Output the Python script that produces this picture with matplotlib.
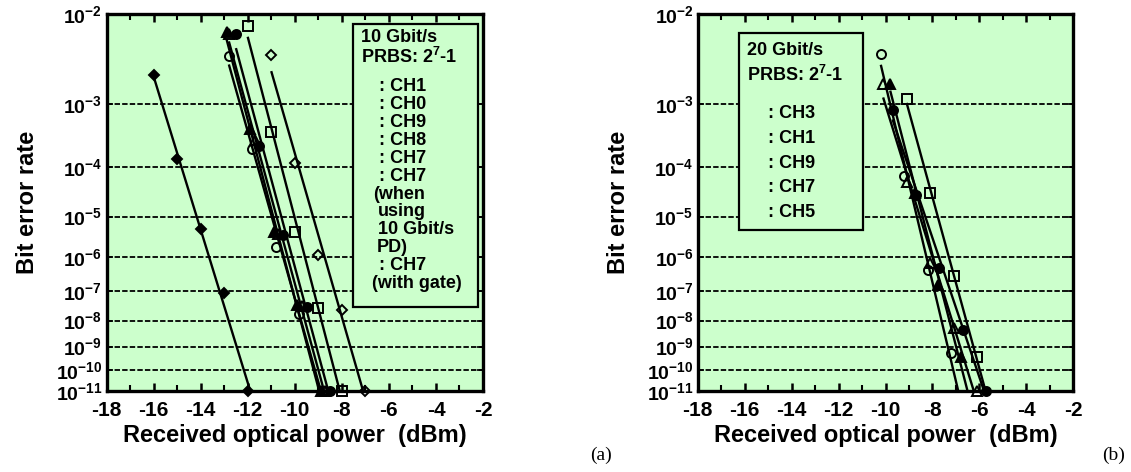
import numpy as np
import matplotlib
matplotlib.use('Agg')
import matplotlib.pyplot as plt
from matplotlib.patches import Rectangle

plt.rcParams['font.family'] = ['Liberation Sans', 'DejaVu Sans']
plt.rcParams['font.weight'] = 'bold'
plt.rcParams['mathtext.fontset'] = 'custom'
plt.rcParams['mathtext.rm'] = 'Liberation Sans:bold'
plt.rcParams['mathtext.bf'] = 'Liberation Sans:bold'
plt.rcParams['mathtext.it'] = 'Liberation Sans:bold'

# ---------------- data (a) 10 Gbit/s ----------------
a_fdiam_x = [-16, -15, -14, -13, -12]
a_fdiam_y = [2.3e-3, 1.4e-4, 5.3e-6, 8.5e-8, 1e-11]
a_osq_x = [-12, -11, -10, -9, -8]
a_osq_y = [7.7e-3, 3.9e-4, 4.3e-6, 2.8e-8, 1e-11]
a_odiam_x = [-11, -10, -9, -8, -7]
a_odiam_y = [3.9e-3, 1.2e-4, 1.1e-6, 2.3e-8, 1e-11]
a_ftri_x = [-12.9, -11.9, -10.9, -9.9, -8.9]
a_ftri_y = [6.7e-3, 4.4e-4, 4.3e-6, 3.5e-8, 1e-11]
a_otri_x = [-12.8, -11.7, -10.7, -9.7, -8.7]
a_otri_y = [6.5e-3, 2.9e-4, 3.8e-6, 3.2e-8, 1e-11]
a_ocirc_x = [-12.8, -11.8, -10.8, -9.8, -8.8]
a_ocirc_y = [3.8e-3, 2.1e-4, 1.8e-6, 1.7e-8, 1e-11]
a_fcirc_x = [-12.5, -11.5, -10.5, -9.5, -8.5]
a_fcirc_y = [6.4e-3, 2.3e-4, 3.6e-6, 3.0e-8, 1e-11]

# ---------------- data (b) 20 Gbit/s ----------------
b_ocirc_x = [-10.2, -9.2, -8.2, -7.2]
b_ocirc_y = [4.0e-3, 6.9e-5, 4.4e-7, 5.7e-10]
b_otri_x = [-10.1, -9.1, -8.1, -7.1, -6.1]
b_otri_y = [1.8e-3, 5.4e-5, 6.8e-7, 5.4e-9, 1e-11]
b_ftri_x = [-9.8, -8.75, -7.75, -6.8]
b_ftri_y = [1.8e-3, 3.2e-5, 1.6e-7, 3.7e-10]
b_fcirc_x = [-9.7, -8.7, -7.7, -6.7, -5.7]
b_fcirc_y = [8.2e-4, 2.9e-5, 4.9e-7, 4.6e-9, 1e-11]
b_osq_x = [-9.1, -8.1, -7.1, -6.1]
b_osq_y = [1.15e-3, 3.2e-5, 2.8e-7, 3.7e-10]

yticks = [1e-2, 1e-3, 1e-4, 1e-5, 1e-6, 1e-7, 1e-8, 1e-9, 1e-10, 1e-11]
ytick_labels = [r'$\mathbf{10^{-%d}}$' % k for k in range(2, 12)]
xticks = [-18, -16, -14, -12, -10, -8, -6, -4, -2]
xtick_labels = ['-18', '-16', '-14', '-12', '-10', '-8', '-6', '-4', '-2']

legend_a_head = ['10 Gbit/s', r'PRBS: $\mathbf{2^{7}}$-1']
legend_a_items = [': CH1', ': CH0', ': CH9', ': CH8', ': CH7', ': CH7', '(when',
                  'using', '10 Gbit/s', 'PD)', ': CH7', '(with gate)']
legend_b_head = ['20 Gbit/s', r'PRBS: $\mathbf{2^{7}}$-1']
legend_b_items = [': CH3', ': CH1', ': CH9', ': CH7', ': CH5']

BG = '#CCFFCC'
W, H = 1131, 472


def fwd(b):
    b = np.clip(np.asarray(b, dtype=float), 1e-300, 0.9999999)
    return -np.log10(-np.log10(b))


def inv(t):
    return 10.0 ** (-(10.0 ** (-np.asarray(t, dtype=float))))


def setup(ax):
    ax.set_facecolor(BG)
    ax.set_yscale('function', functions=(fwd, inv))
    ax.set_xlim(-18, -2)
    ax.set_ylim(1e-11, 1e-2)
    ax.set_yticks(yticks)
    ax.set_yticklabels(ytick_labels, fontsize=14)
    ax.yaxis.set_minor_locator(matplotlib.ticker.NullLocator())
    ax.set_xticks(xticks)
    ax.set_xticklabels(xtick_labels, fontsize=15, fontweight='bold')
    ax.set_xticks(np.arange(-17, -2, 2), minor=True)
    ax.tick_params(axis='x', which='major', direction='in', length=6, width=1.8,
                   top=True, bottom=True, pad=7)
    ax.tick_params(axis='x', which='minor', direction='in', length=4, width=1.5,
                   top=True, bottom=True)
    ax.tick_params(axis='y', which='major', direction='in', length=4, width=1.2,
                   left=True, right=True, pad=3)
    for s in ax.spines.values():
        s.set_linewidth(2.4)
    ax.yaxis.grid(True, linestyle=(0, (3.0, 1.2)), color='black', linewidth=1.3)
    ax.set_axisbelow(True)
    ax.set_xlabel('Received optical power  (dBm)', fontsize=17,
                  fontweight='bold', labelpad=3)
    ax.set_ylabel('Bit error rate', fontsize=17, fontweight='bold', labelpad=12)


def series(ax, xs, ys, marker, filled, ms=6.5):
    xs = np.asarray(xs, float)
    ys = np.asarray(ys, float)
    t = fwd(ys)
    m, c = np.polyfit(xs, t, 1)
    x_end = (fwd(1e-11) - c) / m
    xl = np.array([xs[0], x_end])
    ax.plot(xl, inv(m * xl + c), color='black', lw=1.7, zorder=4,
            solid_capstyle='butt', clip_on=False)
    ax.plot(xs, ys, linestyle='none', marker=marker, ms=ms,
            mfc='black' if filled else 'none', mec='black', mew=1.4,
            zorder=5, clip_on=False)


fig = plt.figure(figsize=(W / 100, H / 100), dpi=100)
axa = fig.add_axes([106.5 / W, 1 - 391 / H, 376.5 / W, 377 / H])
axb = fig.add_axes([697.7 / W, 1 - 391 / H, 375.6 / W, 377 / H])
for ax in (axa, axb):
    setup(ax)

series(axa, a_fdiam_x, a_fdiam_y, 'D', True, ms=5)
series(axa, a_osq_x, a_osq_y, 's', False, ms=7)
series(axa, a_odiam_x, a_odiam_y, 'D', False, ms=5.5)
series(axa, a_ftri_x, a_ftri_y, '^', True, ms=7)
series(axa, a_otri_x, a_otri_y, '^', False, ms=7)
series(axa, a_ocirc_x, a_ocirc_y, 'o', False, ms=6.5)
series(axa, a_fcirc_x, a_fcirc_y, 'o', True, ms=6.5)

series(axb, b_ocirc_x, b_ocirc_y, 'o', False, ms=6.5)
series(axb, b_otri_x, b_otri_y, '^', False, ms=7)
series(axb, b_ftri_x, b_ftri_y, '^', True, ms=7)
series(axb, b_fcirc_x, b_fcirc_y, 'o', True, ms=6.5)
series(axb, b_osq_x, b_osq_y, 's', False, ms=7)


def legend_box(ax, px0, py0, px1, py1, ax_px0, ax_pw):
    x0 = (px0 - ax_px0) / ax_pw
    x1 = (px1 - ax_px0) / ax_pw
    y0 = (391 - py1) / 377
    y1 = (391 - py0) / 377
    ax.add_patch(Rectangle((x0, y0), x1 - x0, y1 - y0, transform=ax.transAxes,
                           facecolor=BG, edgecolor='black', lw=1.6, zorder=3))


legend_box(axa, 353, 24, 478, 307, 106.5, 376.5)
legend_box(axb, 739, 33.3, 863.3, 230, 697.7, 375.6)


def ftext(px, py, s, size=13, **kw):
    fig.text(px / W, 1 - py / H, s, fontsize=size, fontweight='bold',
             ha='left', va='center', zorder=10, **kw)


ftext(360.7, 38, legend_a_head[0])
ftext(360.7, 57, legend_a_head[1])
a_item_x = [379, 379, 379, 379, 379, 379, 373, 378, 378, 377, 379, 372]
for i, (s, xx) in enumerate(zip(legend_a_items, a_item_x)):
    ftext(xx, 86.7 + i * 17.9, s)

ftext(746.7, 50.7, legend_b_head[0])
ftext(746.7, 75, legend_b_head[1])
for i, s in enumerate(legend_b_items):
    ftext(768.3, 113.3 + i * 24.85, s)

fig.text(612 / W, 1 - 455 / H, '(a)', fontsize=14, family='Liberation Serif',
         fontweight='normal', ha='right', va='center')
fig.text(1125 / W, 1 - 455 / H, '(b)', fontsize=14, family='Liberation Serif',
         fontweight='normal', ha='right', va='center')

fig.savefig('out.png', dpi=100, facecolor='white')
